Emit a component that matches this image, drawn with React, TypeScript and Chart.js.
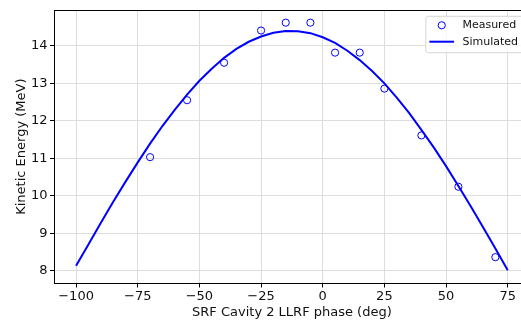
import React, { useEffect, useRef } from 'react';
import { Chart, registerables } from 'chart.js';

Chart.register(...registerables);

const measuredPhase = [-70, -55, -40, -25, -15, -5, 5, 15, 25, 40, 55, 70];
const measuredEnergy = [11.03, 12.55, 13.55, 14.41, 14.62, 14.62, 13.82, 13.82, 12.86, 11.61, 10.24, 8.36];

const simPhase = [
  -100, -95, -90, -85, -80, -75, -70, -65, -60, -55, -50, -45, -40, -35, -30, -25, -20, -15,
  -10, -5, 0, 5, 10, 15, 20, 25, 30, 35, 40, 45, 50, 55, 60, 65, 70, 75,
];
const simEnergy = [
  8.13, 8.7, 9.27, 9.83, 10.37, 10.89, 11.39, 11.86, 12.29, 12.7, 13.07, 13.39, 13.68, 13.92, 14.11, 14.25, 14.35, 14.4,
  14.39, 14.34, 14.23, 14.08, 13.87, 13.62, 13.33, 13.0, 12.62, 12.21, 11.76, 11.29, 10.79, 10.26, 9.72, 9.16, 8.59, 8.01,
];

const xTicks = [-100, -75, -50, -25, 0, 25, 50, 75];
const yTicks = [8, 9, 10, 11, 12, 13, 14];
const xLabel = 'SRF Cavity 2 LLRF phase (deg)';
const yLabel = 'Kinetic Energy (MeV)';
const measuredLabel = 'Measured';
const simulatedLabel = 'Simulated';

const FONT = "'DejaVu Sans', 'Liberation Sans', sans-serif";

const framePlugin = {
  id: 'frame',
  afterDatasetsDraw(chart: any) {
    const { ctx, chartArea } = chart;
    ctx.save();
    ctx.strokeStyle = '#000';
    ctx.lineWidth = 1;
    ctx.beginPath();
    const t = Math.round(chartArea.top) + 0.5;
    const r = Math.round(chartArea.right) - 0.5;
    ctx.moveTo(chartArea.left, t);
    ctx.lineTo(r, t);
    ctx.lineTo(r, chartArea.bottom);
    ctx.stroke();
    ctx.restore();
  },
};

const legendPlugin = {
  id: 'mplLegend',
  afterDraw(chart: any) {
    const { ctx, chartArea } = chart;
    const ds = chart.data.datasets;
    const boxRight = chartArea.right - 5.5;
    const boxTop = chartArea.top + 6;
    const boxW = 98;
    const boxH = 36.4;
    const boxLeft = boxRight - boxW;
    ctx.save();
    // frame
    const rad = 2.5;
    ctx.beginPath();
    ctx.moveTo(boxLeft + rad, boxTop);
    ctx.lineTo(boxRight - rad, boxTop);
    ctx.quadraticCurveTo(boxRight, boxTop, boxRight, boxTop + rad);
    ctx.lineTo(boxRight, boxTop + boxH - rad);
    ctx.quadraticCurveTo(boxRight, boxTop + boxH, boxRight - rad, boxTop + boxH);
    ctx.lineTo(boxLeft + rad, boxTop + boxH);
    ctx.quadraticCurveTo(boxLeft, boxTop + boxH, boxLeft, boxTop + boxH - rad);
    ctx.lineTo(boxLeft, boxTop + rad);
    ctx.quadraticCurveTo(boxLeft, boxTop, boxLeft + rad, boxTop);
    ctx.closePath();
    ctx.fillStyle = 'rgba(255,255,255,0.8)';
    ctx.fill();
    ctx.strokeStyle = '#d6d6d6';
    ctx.lineWidth = 1;
    ctx.stroke();

    const row1 = boxTop + 9;
    const row2 = boxTop + 25.4;
    const handleX = boxLeft + 3.6;
    const handleLen = 24.7;
    const textX = boxLeft + 36.6;

    // measured marker
    ctx.beginPath();
    ctx.arc(handleX + handleLen / 2, row1, 3.6, 0, Math.PI * 2);
    ctx.strokeStyle = ds[0].borderColor;
    ctx.lineWidth = 1;
    ctx.stroke();
    // simulated line
    ctx.beginPath();
    ctx.moveTo(handleX, row2);
    ctx.lineTo(handleX + handleLen, row2);
    ctx.strokeStyle = ds[1].borderColor;
    ctx.lineWidth = 2;
    ctx.stroke();

    ctx.fillStyle = '#111';
    ctx.font = `11px ${FONT}`;
    ctx.textBaseline = 'middle';
    ctx.textAlign = 'left';
    ctx.fillText(ds[0].label, textX, row1);
    ctx.fillText(ds[1].label, textX, row2);
    ctx.restore();
  },
};

export default function App() {
  const canvasRef = useRef<HTMLCanvasElement | null>(null);

  useEffect(() => {
    const canvas = canvasRef.current;
    if (!canvas) return;
    const minus = (v: number) => (v < 0 ? '\u2212' + Math.abs(v) : String(v));
    const chart = new Chart(canvas, {
      type: 'scatter',
      data: {
        datasets: [
          {
            label: measuredLabel,
            data: measuredPhase.map((x, i) => ({ x, y: measuredEnergy[i] })),
            borderColor: '#0000ff',
            backgroundColor: 'rgba(0,0,0,0)',
            pointStyle: 'circle',
            pointRadius: 3.6,
            pointBorderWidth: 1,
            showLine: false,
            order: 1,
          },
          {
            label: simulatedLabel,
            data: simPhase.map((x, i) => ({ x, y: simEnergy[i] })),
            borderColor: '#0000ff',
            backgroundColor: '#0000ff',
            borderWidth: 2,
            pointRadius: 0,
            showLine: true,
            tension: 0,
            order: 0,
          },
        ],
      },
      options: {
        responsive: false,
        animation: false,
        devicePixelRatio: 1,
        layout: { padding: { left: 0, top: 8, right: 10.7, bottom: 0 } },
        plugins: {
          legend: { display: false },
          tooltip: { enabled: false },
        },
        scales: {
          x: {
            type: 'linear',
            min: -108.75,
            max: 83.75,
            afterBuildTicks: (scale: any) => {
              scale.ticks = xTicks.map((v) => ({ value: v }));
            },
            afterFit: (scale: any) => {
              scale.height = 41;
            },
            ticks: {
              callback: (v: any) => minus(Number(v)),
              font: { family: FONT, size: 13 },
              color: '#111',
              padding: 1,
              maxRotation: 0,
              autoSkip: false,
            },
            grid: { color: '#dddddd', lineWidth: 1, tickLength: 4.5, tickColor: '#000' },
            border: { color: '#000', width: 1 },
            title: {
              display: true,
              text: xLabel,
              font: { family: FONT, size: 13 },
              color: '#111',
              padding: { top: 0, bottom: 3.9 },
            },
          },
          y: {
            type: 'linear',
            min: 7.67,
            max: 14.95,
            afterBuildTicks: (scale: any) => {
              scale.ticks = yTicks.map((v) => ({ value: v }));
            },
            afterFit: (scale: any) => {
              scale.width = 54.5;
            },
            ticks: {
              font: { family: FONT, size: 13 },
              color: '#111',
              padding: 2.5,
              autoSkip: false,
            },
            grid: { color: '#dddddd', lineWidth: 1, tickLength: 4.5, tickColor: '#000' },
            border: { color: '#000', width: 1 },
            title: {
              display: true,
              text: yLabel,
              font: { family: FONT, size: 13 },
              color: '#111',
              padding: { top: 14, bottom: 0 },
            },
          },
        },
      },
      plugins: [framePlugin, legendPlugin],
    } as any);
    return () => chart.destroy();
  }, []);

  return (
    <div
      style={{
        position: 'fixed',
        left: 0,
        top: 0,
        width: 521,
        height: 324,
        overflow: 'hidden',
        background: '#fff',
      }}
    >
      <canvas ref={canvasRef} width={540} height={324} style={{ width: 540, height: 324, display: 'block' }} />
    </div>
  );
}
